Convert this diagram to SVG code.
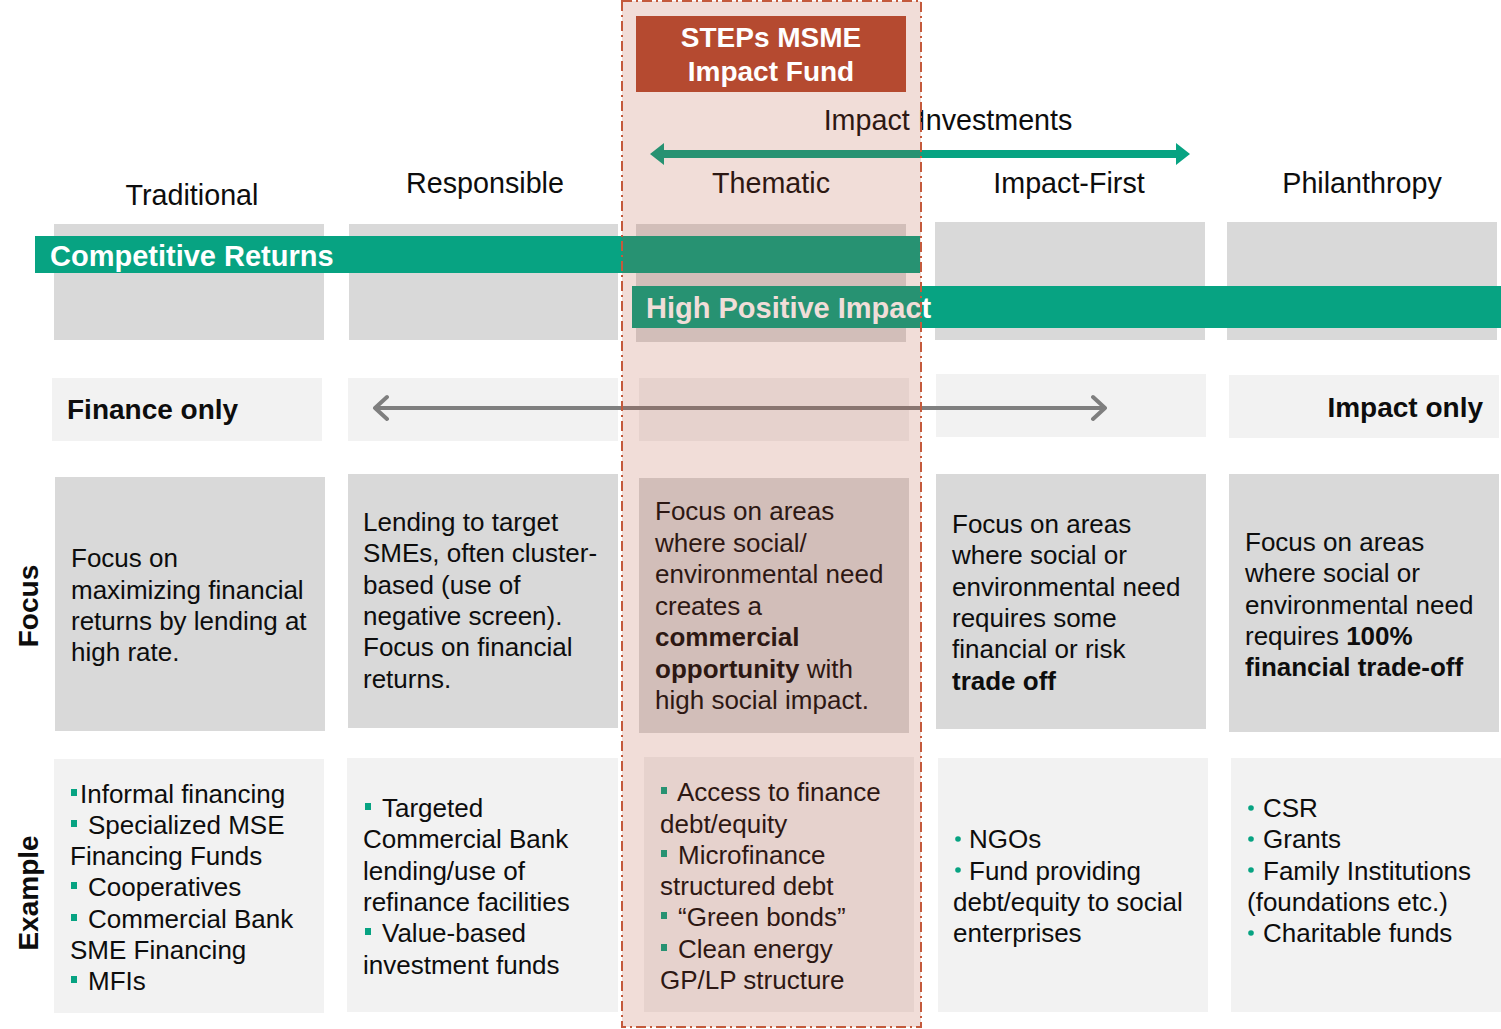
<svg xmlns="http://www.w3.org/2000/svg" width="1501" height="1029" viewBox="0 0 1501 1029">
<defs>
<style>
text{font-family:"Liberation Sans",Arial,sans-serif;fill:#0d0d0d}
.hd{font-size:28.7px}
.bd{font-size:26px}
.bb{font-size:28px;font-weight:bold}
.wh{fill:#fff;font-weight:bold;font-size:28px}
.wb{fill:#fff;font-weight:bold;font-size:29px}
.g1{fill:#d9d9d9}
.g2{fill:#f2f2f2}
.bar{fill:#07a382}
.bul{fill:#07a382}
</style>
</defs>
<rect width="1501" height="1029" fill="#fff"/>

<g id="headers">
<text class="hd" x="192" y="205" text-anchor="middle">Traditional</text>
<text class="hd" x="485" y="193" text-anchor="middle">Responsible</text>
<text class="hd" x="771" y="193" text-anchor="middle">Thematic</text>
<text class="hd" x="1069" y="193" text-anchor="middle">Impact-First</text>
<text class="hd" x="1362" y="193" text-anchor="middle">Philanthropy</text>
<text class="hd" x="948" y="130" text-anchor="middle">Impact Investments</text>
</g>

<g id="row-labels">
<text class="bb" transform="translate(38,606) rotate(-90)" text-anchor="middle">Focus</text>
<text class="bb" transform="translate(38,893) rotate(-90)" text-anchor="middle">Example</text>
</g>

<g id="top-boxes">
<rect class="g1" x="54" y="224" width="270" height="116"/>
<rect class="g1" x="349" y="224" width="269" height="116"/>
<rect class="g1" x="636" y="224" width="270" height="118"/>
<rect class="g1" x="935" y="222" width="270" height="118"/>
<rect class="g1" x="1227" y="222" width="270" height="118"/>
</g>

<g id="competitive-returns">
<rect class="bar" x="35" y="236" width="885" height="37"/>
<text class="wb" x="50" y="266">Competitive Returns</text>
</g>
<g id="high-positive-impact">
<rect class="bar" x="632" y="286" width="869" height="42"/>
<text class="wb" x="646" y="318">High Positive Impact</text>
</g>

<g id="spectrum-row">
<rect class="g2" x="52" y="378" width="270" height="63"/>
<rect class="g2" x="348" y="378" width="270" height="63"/>
<rect class="g2" x="639" y="378" width="270" height="63"/>
<rect class="g2" x="936" y="374" width="270" height="63"/>
<rect class="g2" x="1229" y="375" width="270" height="63"/>
<text class="bb" x="67" y="419">Finance only</text>
<text class="bb" x="1483" y="417" text-anchor="end">Impact only</text>
</g>

<g id="focus-traditional">
<rect class="g1" x="55" y="477" width="270" height="254"/>
<text class="bd"><tspan x="71" y="567">Focus on</tspan><tspan x="71" y="599">maximizing financial</tspan><tspan x="71" y="630">returns by lending at</tspan><tspan x="71" y="661">high rate.</tspan></text>
</g>
<g id="focus-responsible">
<rect class="g1" x="348" y="474" width="270" height="254"/>
<text class="bd"><tspan x="363" y="531">Lending to target</tspan><tspan x="363" y="562">SMEs, often cluster-</tspan><tspan x="363" y="594">based (use of</tspan><tspan x="363" y="625">negative screen).</tspan><tspan x="363" y="656">Focus on financial</tspan><tspan x="363" y="688">returns.</tspan></text>
</g>
<g id="focus-thematic">
<rect class="g1" x="639" y="478" width="270" height="255"/>
<text class="bd"><tspan x="655" y="520">Focus on areas</tspan><tspan x="655" y="552">where social/</tspan><tspan x="655" y="583">environmental need</tspan><tspan x="655" y="615">creates a</tspan><tspan x="655" y="646" font-weight="bold">commercial</tspan><tspan x="655" y="678" font-weight="bold">opportunity</tspan><tspan> with</tspan><tspan x="655" y="709">high social impact.</tspan></text>
</g>
<g id="focus-impact-first">
<rect class="g1" x="936" y="474" width="270" height="255"/>
<text class="bd"><tspan x="952" y="533">Focus on areas</tspan><tspan x="952" y="564">where social or</tspan><tspan x="952" y="596">environmental need</tspan><tspan x="952" y="627">requires some</tspan><tspan x="952" y="658">financial or risk</tspan><tspan x="952" y="690" font-weight="bold">trade off</tspan></text>
</g>
<g id="focus-philanthropy">
<rect class="g1" x="1229" y="474" width="270" height="258"/>
<text class="bd"><tspan x="1245" y="551">Focus on areas</tspan><tspan x="1245" y="582">where social or</tspan><tspan x="1245" y="614">environmental need</tspan><tspan x="1245" y="645">requires </tspan><tspan font-weight="bold">100%</tspan><tspan x="1245" y="676" font-weight="bold">financial trade-off</tspan></text>
</g>

<g id="example-traditional">
<rect class="g2" x="54" y="759" width="270" height="254"/>
<rect class="bul" x="71" y="789" width="6" height="7"/>
<rect class="bul" x="71" y="820" width="6" height="7"/>
<rect class="bul" x="71" y="882" width="6" height="7"/>
<rect class="bul" x="71" y="914" width="6" height="7"/>
<rect class="bul" x="71" y="976" width="6" height="7"/>
<text class="bd"><tspan x="80" y="803">Informal financing</tspan><tspan x="88" y="834">Specialized MSE</tspan><tspan x="70" y="865">Financing Funds</tspan><tspan x="88" y="896">Cooperatives</tspan><tspan x="88" y="928">Commercial Bank</tspan><tspan x="70" y="959">SME Financing</tspan><tspan x="88" y="990">MFIs</tspan></text>
</g>
<g id="example-responsible">
<rect class="g2" x="347" y="758" width="271" height="254"/>
<rect class="bul" x="365" y="803" width="6" height="7"/>
<rect class="bul" x="365" y="928" width="6" height="7"/>
<text class="bd"><tspan x="382" y="817">Targeted</tspan><tspan x="363" y="848">Commercial Bank</tspan><tspan x="363" y="880">lending/use of</tspan><tspan x="363" y="911">refinance facilities</tspan><tspan x="382" y="942">Value-based</tspan><tspan x="363" y="974">investment funds</tspan></text>
</g>
<g id="example-thematic">
<rect class="g2" x="644" y="757" width="270" height="255"/>
<rect class="bul" x="661" y="787" width="6" height="7"/>
<rect class="bul" x="661" y="850" width="6" height="7"/>
<rect class="bul" x="661" y="912" width="6" height="7"/>
<rect class="bul" x="661" y="944" width="6" height="7"/>
<text class="bd"><tspan x="677" y="801">Access to finance</tspan><tspan x="660" y="833">debt/equity</tspan><tspan x="678" y="864">Microfinance</tspan><tspan x="660" y="895">structured debt</tspan><tspan x="678" y="926">“Green bonds”</tspan><tspan x="678" y="958">Clean energy</tspan><tspan x="660" y="989">GP/LP structure</tspan></text>
</g>
<g id="example-impact-first">
<rect class="g2" x="938" y="758" width="270" height="254"/>
<circle class="bul" cx="958" cy="839" r="2.8"/>
<circle class="bul" cx="958" cy="870" r="2.8"/>
<text class="bd"><tspan x="969" y="848">NGOs</tspan><tspan x="969" y="880">Fund providing</tspan><tspan x="953" y="911">debt/equity to social</tspan><tspan x="953" y="942">enterprises</tspan></text>
</g>
<g id="example-philanthropy">
<rect class="g2" x="1231" y="758" width="270" height="254"/>
<circle class="bul" cx="1251" cy="808" r="2.8"/>
<circle class="bul" cx="1251" cy="839" r="2.8"/>
<circle class="bul" cx="1251" cy="870" r="2.8"/>
<circle class="bul" cx="1251" cy="933" r="2.8"/>
<text class="bd"><tspan x="1263" y="817">CSR</tspan><tspan x="1263" y="848">Grants</tspan><tspan x="1263" y="880">Family Institutions</tspan><tspan x="1247" y="911">(foundations etc.)</tspan><tspan x="1263" y="942">Charitable funds</tspan></text>
</g>

<g id="connectors">
<line x1="662" y1="154" x2="1178" y2="154" stroke="#07a382" stroke-width="8"/>
<path d="M650,154 L664,143 L664,165 Z M1190,154 L1176,143 L1176,165 Z" fill="#07a382"/>
<line x1="375" y1="408" x2="1105" y2="408" stroke="#7f7f7f" stroke-width="4"/>
<path d="M387,397 L375,408 L387,419 M1093,397 L1105,408 L1093,419" fill="none" stroke="#7f7f7f" stroke-width="4" stroke-linecap="round" stroke-linejoin="round"/>
</g>

<g id="thematic-highlight">
<rect x="622" y="1" width="299" height="1026" fill="#b5492f" fill-opacity="0.19" stroke="#c45a3c" stroke-width="2" stroke-dasharray="10 4 2 4"/>
</g>

<g id="steps-fund">
<rect x="636" y="16" width="270" height="76" fill="#b54a30"/>
<text class="wh" x="771" y="47" text-anchor="middle">STEPs MSME</text>
<text class="wh" x="771" y="81" text-anchor="middle">Impact Fund</text>
</g>
</svg>
